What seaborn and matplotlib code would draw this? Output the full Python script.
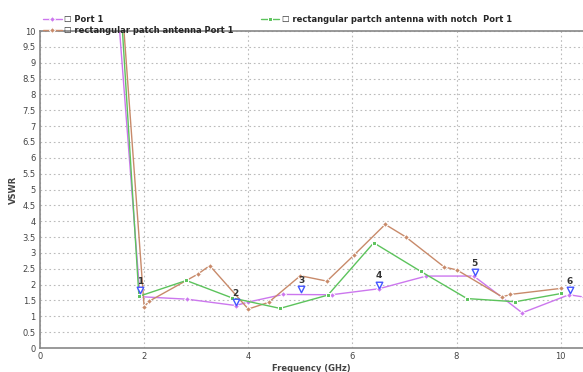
import matplotlib
matplotlib.use("Agg")
import matplotlib.pyplot as plt
import seaborn as sns
import pandas as pd

# Port 1 (purple)
port1_freq = [1.52, 1.92, 2.83, 3.76, 4.0, 4.67, 5.6, 6.51, 7.42, 8.33, 8.88, 9.26, 10.16, 10.44]
port1_vswr = [10.2, 1.62, 1.54, 1.34, 1.45, 1.69, 1.68, 1.87, 2.27, 2.27, 1.59, 1.11, 1.68, 1.61]

# rectangular patch antenna (brown)
patch_freq = [1.6, 2.0, 2.1, 3.03, 3.26, 4.0, 4.39, 5.0, 5.51, 6.03, 6.63, 7.02, 7.76, 8.01, 8.88, 9.03, 10.0]
patch_vswr = [10.3, 1.3, 1.48, 2.33, 2.6, 1.23, 1.44, 2.28, 2.11, 2.93, 3.9, 3.51, 2.56, 2.46, 1.61, 1.69, 1.88]

# rectangular patch antenna with notch (green)
notch_freq = [1.58, 1.9, 2.81, 3.69, 4.61, 5.53, 6.41, 7.31, 8.2, 9.13, 10.01]
notch_vswr = [10.1, 1.63, 2.13, 1.58, 1.25, 1.67, 3.32, 2.42, 1.56, 1.46, 1.72]

# numbered markers
marker_ids = ["1", "2", "3", "4", "5", "6"]
marker_freq = [1.92, 3.76, 5.02, 6.51, 8.35, 10.17]
marker_vswr = [1.82, 1.46, 1.85, 2.0, 2.4, 1.83]

sns.set_style("white")
plt.rcParams['font.family'] = ['DejaVu Sans']

fig = plt.figure(figsize=(5.83, 3.72), dpi=100)
ax = fig.add_axes([0.0686, 0.0645, 0.9324, 0.852])

df_port = pd.DataFrame({"f": port1_freq, "v": port1_vswr})
df_patch = pd.DataFrame({"f": patch_freq, "v": patch_vswr})
df_notch = pd.DataFrame({"f": notch_freq, "v": notch_vswr})

sns.lineplot(data=df_port, x="f", y="v", ax=ax, color="#cc77ee", marker="D",
             markersize=3, linewidth=1.0, label="\u2610 Port 1", sort=False)
sns.lineplot(data=df_patch, x="f", y="v", ax=ax, color="#c88a6a", marker="D",
             markersize=3, linewidth=1.0, label="\u2610 rectangular patch antenna Port 1", sort=False)
sns.lineplot(data=df_notch, x="f", y="v", ax=ax, color="#5cc35c", marker="s",
             markersize=3, linewidth=1.0, label="\u2610 rectangular partch antenna with notch  Port 1", sort=False)

ax.scatter(marker_freq, marker_vswr, marker="v", s=22, facecolors="white",
           edgecolors="#4455ff", linewidths=1.0, zorder=5)
for mid, fx, vy in zip(marker_ids, marker_freq, marker_vswr):
    ax.annotate(mid, (fx, vy), xytext=(0, 3), textcoords="offset points",
                ha="center", va="bottom", fontsize=6.5, fontweight="bold", color="#333333")

ax.set_xlim(0, 10.44)
ax.set_ylim(0, 10)
ax.set_xticks([0, 2, 4, 6, 8, 10])
ax.set_yticks([i * 0.5 for i in range(21)])
ax.set_yticklabels([("%g" % (i * 0.5)) for i in range(21)])
ax.tick_params(labelsize=6, colors="#444444", length=0, pad=3)
ax.grid(True, linestyle=(0, (1.5, 2.5)), color="#bbbbbb", linewidth=0.8)
for s in ["left", "bottom", "top"]:
    ax.spines[s].set_color("#888888")
    ax.spines[s].set_linewidth(1.2)
ax.spines["right"].set_visible(False)

ax.set_xlabel("Frequency (GHz)", fontsize=6, fontweight="bold", color="#444444", labelpad=2)
ax.set_ylabel("VSWR", fontsize=6, fontweight="bold", color="#444444", labelpad=3)

handles, labels = ax.get_legend_handles_labels()
ax.legend(handles, labels, ncol=2, loc="lower left", bbox_to_anchor=(0.0, 0.978),
          frameon=False, prop={"weight": "bold", "size": 6},
          handlelength=2.2, handletextpad=0.3, columnspacing=3.3, borderaxespad=0,
          labelspacing=0.2)

plt.savefig("out.png", dpi=100)
